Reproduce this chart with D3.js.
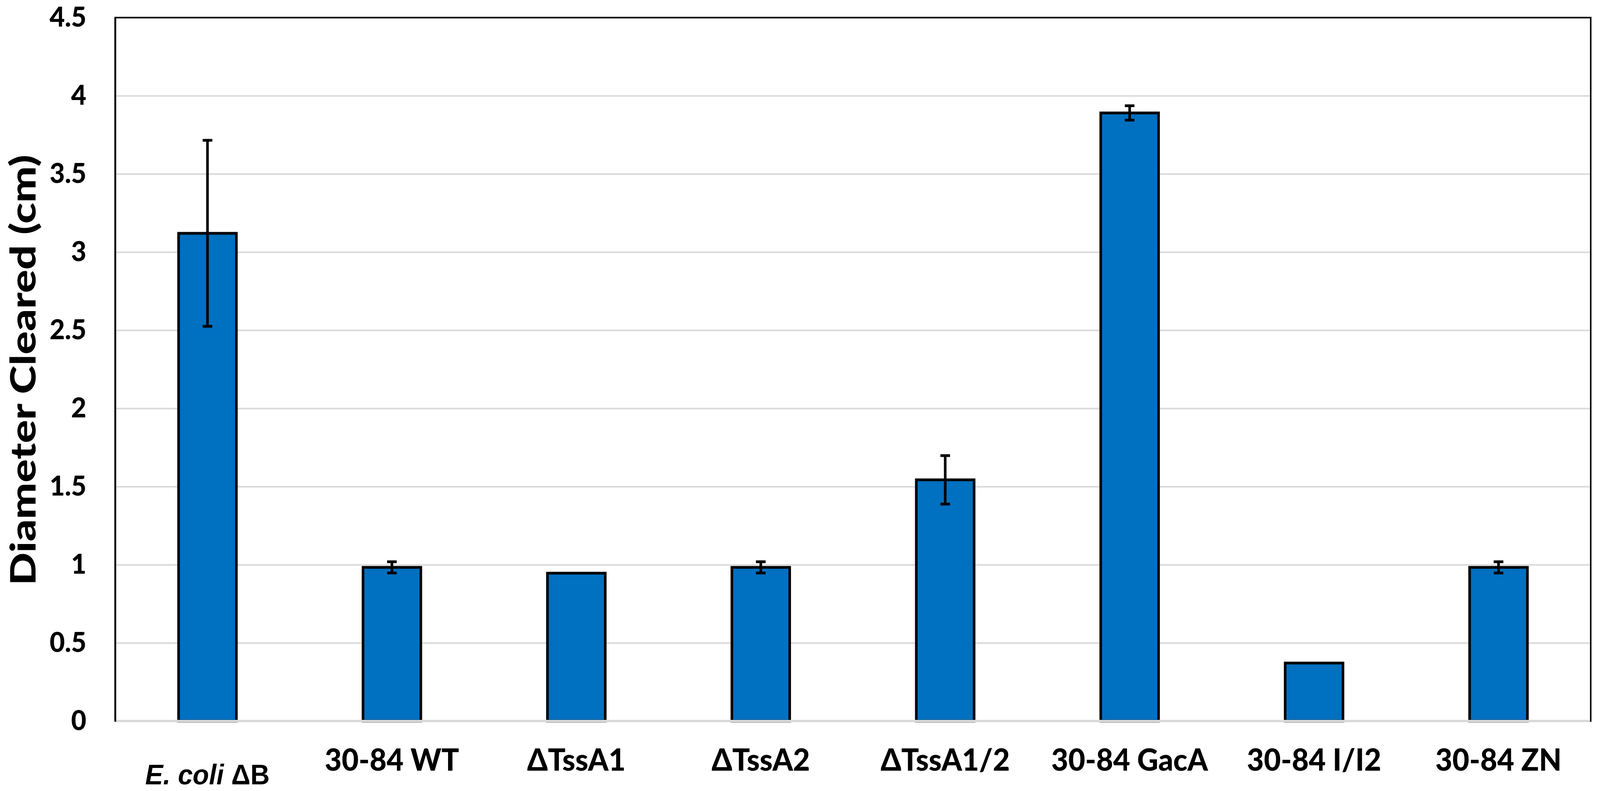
<!DOCTYPE html>
<html>
<head>
<meta charset="utf-8">
<script src="https://cdn.jsdelivr.net/npm/d3@7"></script>
<style>
  html, body { margin: 0; padding: 0; background: #ffffff; overflow: hidden; width: 100%; height: 100%; }
  svg { display: block; width: 100vw; height: 100vh; }
</style>
</head>
<body>
<svg id="chart" viewBox="0 0 4317 2024" preserveAspectRatio="none"></svg>
<script>
const categories = ["E. coli ΔB", "30-84 WT", "ΔTssA1", "ΔTssA2", "ΔTssA1/2", "30-84 GacA", "30-84 I/I2", "30-84 ZN"];
const means = [3.12, 0.983, 0.946, 0.983, 1.543, 3.89, 0.371, 0.983];
const errors = [0.595, 0.036, 0, 0.036, 0.155, 0.046, 0, 0.036];
const yTicks = [0, 0.5, 1, 1.5, 2, 2.5, 3, 3.5, 4, 4.5];
const yTitle = "Diameter Cleared (cm)";

const plotLeft = 311, plotRight = 4292, plotTop = 45, plotBottom = 1845;
const plotW = plotRight - plotLeft;

const svg = d3.select("#chart");

const x = d3.scaleBand().domain(categories).range([plotLeft, plotRight])
  .paddingInner(0.6865).paddingOuter(0.6865 / 2);
const y = d3.scaleLinear().domain([0, 4.5]).range([plotBottom, plotTop]);

const tickFont = "Lato, 'Open Sans', 'DejaVu Sans', sans-serif";
const heavy = 900;

// Y axis with gridlines
const yAxis = svg.append("g")
  .attr("transform", `translate(${plotLeft},0)`)
  .call(d3.axisLeft(y).tickValues(yTicks).tickSize(-plotW).tickPadding(78)
    .tickFormat(d3.format("~g")));
yAxis.select(".domain").remove();
yAxis.selectAll(".tick line").attr("stroke", "#D9D9D9").attr("stroke-width", 4);
yAxis.selectAll(".tick text")
  .attr("font-family", tickFont).attr("font-weight", heavy)
  .attr("font-size", 71).attr("fill", "#000");

// Bars
const data = categories.map((c, i) => ({c, m: means[i], e: errors[i]}));
svg.append("g").selectAll("rect").data(data).join("rect")
  .attr("x", d => x(d.c))
  .attr("y", d => y(d.m))
  .attr("width", x.bandwidth())
  .attr("height", d => y(0) - y(d.m))
  .attr("fill", "#0070C0")
  .attr("stroke", "#000")
  .attr("stroke-width", 7);

// Error bars
const eb = svg.append("g").selectAll("g").data(data.filter(d => d.e > 0)).join("g")
  .attr("stroke", "#000").attr("stroke-width", 7);
const cx = d => x(d.c) + x.bandwidth() / 2;
eb.append("line")
  .attr("x1", cx).attr("x2", cx)
  .attr("y1", d => y(d.m + d.e)).attr("y2", d => y(d.m - d.e));
eb.append("line")
  .attr("x1", d => cx(d) - 13).attr("x2", d => cx(d) + 13)
  .attr("y1", d => y(d.m + d.e)).attr("y2", d => y(d.m + d.e));
eb.append("line")
  .attr("x1", d => cx(d) - 13).attr("x2", d => cx(d) + 13)
  .attr("y1", d => y(d.m - d.e)).attr("y2", d => y(d.m - d.e));

// Plot border
svg.append("rect")
  .attr("x", plotLeft).attr("y", plotTop).attr("width", plotW).attr("height", plotBottom - plotTop)
  .attr("fill", "none").attr("stroke", "#000").attr("stroke-width", 4);
// Zero line
svg.append("line")
  .attr("x1", plotLeft + 2).attr("x2", plotRight - 2).attr("y1", y(0)).attr("y2", y(0))
  .attr("stroke", "#D9D9D9").attr("stroke-width", 6);
// left axis
svg.append("line")
  .attr("x1", plotLeft).attr("x2", plotLeft).attr("y1", plotTop).attr("y2", y(0))
  .attr("stroke", "#000").attr("stroke-width", 5);

// X axis labels
const xAxis = svg.append("g")
  .attr("transform", `translate(0,${plotBottom})`)
  .call(d3.axisBottom(x).tickSize(0).tickPadding(0));
xAxis.select(".domain").remove();
xAxis.selectAll(".tick text").each(function(d, i) {
  const t = d3.select(this);
  t.attr("dy", 0).attr("fill", "#000");
  if (i === 0) {
    t.text(null)
      .attr("y", 2007 - plotBottom)
      .attr("font-family", "'Liberation Sans', Arial, sans-serif")
      .attr("font-weight", 700)
      .attr("font-size", 72);
    t.append("tspan").attr("font-style", "italic").text("E. coli");
    t.append("tspan").text(" ΔB");
  } else {
    t.attr("y", 1972 - plotBottom)
      .attr("font-family", tickFont)
      .attr("font-weight", heavy)
      .attr("font-size", 79);
  }
});

// Y title
svg.append("text")
  .attr("transform", `translate(96,${(plotTop + plotBottom) / 2 + 2}) rotate(-90)`)
  .attr("text-anchor", "middle")
  .attr("font-family", tickFont)
  .attr("font-weight", heavy)
  .attr("font-size", 94)
  .attr("textLength", 1102)
  .attr("lengthAdjust", "spacingAndGlyphs")
  .attr("fill", "#000")
  .text(yTitle);
</script>
</body>
</html>
